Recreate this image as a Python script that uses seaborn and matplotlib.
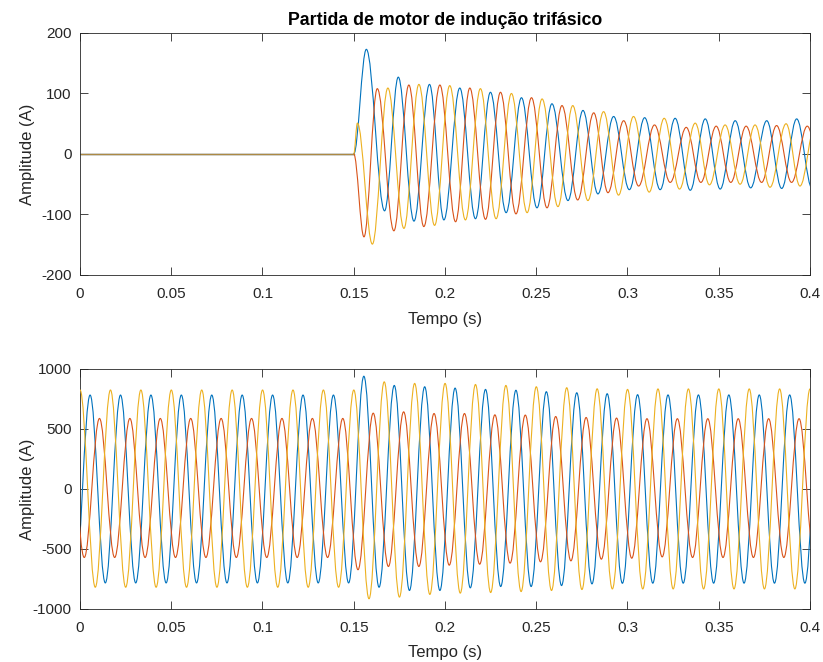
import numpy as np
import pandas as pd
import seaborn as sns
import matplotlib.pyplot as plt
from matplotlib.path import Path
from matplotlib.patches import PathPatch

phases = ["A", "B", "C"]
phase_colors = ["#0072BD", "#D95319", "#EDB120"]

x_ticks = [0, 0.05, 0.1, 0.15, 0.2, 0.25, 0.3, 0.35, 0.4]
x_tick_labels = ["0", "0.05", "0.1", "0.15", "0.2", "0.25", "0.3", "0.35", "0.4"]
top_yticks = [-200, -100, 0, 100, 200]
bot_yticks = [-1000, -500, 0, 500, 1000]

# --- motor start (top), current is zero until switch-on ---
pre_start_t = [0.0, 0.15]
pre_start_v = [0.0, 0.0]

# peaks / troughs of each phase after switch-on (time in s, current in A)
a_top_t = [0.150, 0.1569, 0.1669, 0.1744, 0.1830, 0.1915, 0.1994, 0.2081, 0.2167, 0.2249,
           0.2335, 0.2419, 0.2504, 0.2586, 0.2674, 0.2756, 0.2838, 0.2924, 0.3010, 0.3094,
           0.3179, 0.3261, 0.3344, 0.3426, 0.3508, 0.3590, 0.3675, 0.3763, 0.3845, 0.3927, 0.4012]
a_top_v = [0, 173, -94, 127, -111, 115, -109, 109, -107, 102,
           -97, 93, -89, 83, -77, 72, -66, 62, -59, 60,
           -59, 59, -60, 58, -58, 55, -56, 55, -57, 58, -57]

b_top_t = [0.150, 0.1556, 0.1629, 0.1720, 0.1802, 0.1884, 0.1972, 0.2058, 0.2136, 0.2222,
           0.2304, 0.2389, 0.2474, 0.2559, 0.2641, 0.2727, 0.2815, 0.2893, 0.2979, 0.3061,
           0.3148, 0.3234, 0.3322, 0.3402, 0.3486, 0.3566, 0.3650, 0.3735, 0.3817, 0.3899,
           0.3985, 0.4070]
b_top_v = [0, -137, 108, -127, 114, -120, 114, -112, 109, -108,
           102, -99, 93, -89, 80, -76, 68, -64, 55, -53,
           48, -47, 44, -47, 46, -47, 46, -47, 47, -47,
           46, -47]

c_top_t = [0.150, 0.1520, 0.1602, 0.1687, 0.1775, 0.1857, 0.1943, 0.2026, 0.2112, 0.2194,
           0.2280, 0.2364, 0.2450, 0.2532, 0.2619, 0.2700, 0.2783, 0.2869, 0.2951, 0.3033,
           0.3119, 0.3201, 0.3285, 0.3371, 0.3449, 0.3535, 0.3617, 0.3699, 0.3781, 0.3869,
           0.3945, 0.4030]
c_top_v = [0, 51, -149, 109, -123, 115, -118, 113, -109, 108,
           -107, 100, -97, 91, -87, 80, -77, 70, -68, 62,
           -63, 59, -58, 51, -51, 48, -50, 48, -55, 50,
           -53, 50]

# --- network currents (bottom), 60 Hz, one value per cycle ---
freq = 60.0
a_bot_first = -0.0028   # first trough
b_bot_first = -0.0060   # first peak
c_bot_first = -0.0083   # first trough

a_bot_troughs = [-783] * 10 + [-819, -846, -846, -824, -813, -813, -805, -791, -786] + [-785] * 7
a_bot_peaks = [783] * 9 + [940, 863, 852, 841, 830, 823, 811, 802, 794, 786] + [784] * 7

b_bot_peaks = [588] * 10 + [632, 643, 629, 629, 618, 616, 604, 596, 591] + [586] * 7
b_bot_troughs = [-571] * 9 + [-673, -646, -646, -635, -627, -618, -607, -599, -585, -577, -566] + [-571] * 6

c_bot_troughs = [-819] * 10 + [-915, -901, -879, -868, -863, -855, -846, -838, -833, -833] + [-833] * 6
c_bot_peaks = [825] * 10 + [893, 880, 880, 871, 863, 852, 844, 835, 830] + [834] * 7


def interleave(first, second):
    out = []
    for f, s in zip(first, second):
        out += [f, s]
    return out


def wave_path(t, v):
    # smooth half-cycles between consecutive extrema (cubic bezier, flat at the extrema)
    k = (np.pi - 2) / np.pi
    verts = [(t[0], v[0])]
    codes = [Path.MOVETO]
    for i in range(len(t) - 1):
        dt = t[i + 1] - t[i]
        verts += [(t[i] + k * dt, v[i]), (t[i + 1] - k * dt, v[i + 1]), (t[i + 1], v[i + 1])]
        codes += [Path.CURVE4] * 3
    return Path(verts, codes)


def draw_wave(ax, t, v, color, z):
    ax.add_patch(PathPatch(wave_path(t, v), facecolor="none", edgecolor=color,
                           lw=0.8, zorder=z, capstyle="round", joinstyle="round"))


def style_axes(ax, yticks, xlabel_y):
    ax.set_xlim(0, 0.4)
    ax.set_ylim(yticks[0], yticks[-1])
    ax.set_xticks(x_ticks)
    ax.set_xticklabels(x_tick_labels)
    ax.set_yticks(yticks)
    ax.set_yticklabels([str(v) for v in yticks])
    ax.tick_params(direction="in", top=True, right=True, length=5.5, width=0.6,
                   colors="#262626", labelsize=11)
    ax.tick_params(axis="x", pad=9)
    ax.tick_params(axis="y", pad=6)
    for s in ax.spines.values():
        s.set_color("#262626")
        s.set_linewidth(0.6)
        s.set_visible(True)
    ax.set_xlabel("Tempo (s)", fontsize=12, color="#262626")
    ax.set_ylabel("Amplitude (A)", fontsize=12, color="#262626")
    ax.xaxis.set_label_coords(0.5, xlabel_y)
    ax.yaxis.set_label_coords(-0.062, 0.5)


sns.set_theme(style="ticks")
plt.rcParams["font.family"] = ["Liberation Sans", "DejaVu Sans"]
plt.rcParams["axes.unicode_minus"] = False

fig = plt.figure(figsize=(8.23, 6.62), dpi=100)
ax_top = fig.add_axes([0.0972, 0.5846, 0.887, 0.3656])
ax_bot = fig.add_axes([0.0972, 0.0801, 0.887, 0.3625])

# zero current before the motor starts (three phases on top of each other)
pre = pd.DataFrame({
    "t": pre_start_t * 3,
    "i": pre_start_v * 3,
    "fase": [p for p in phases for _ in pre_start_t],
})
for p, color, a in zip(phases, phase_colors, [1.0, 0.5, 0.5]):
    sns.lineplot(data=pre[pre["fase"] == p], x="t", y="i", color=color,
                 alpha=a, lw=1.0, ax=ax_top)

top_series = [(a_top_t, a_top_v), (b_top_t, b_top_v), (c_top_t, c_top_v)]
for z, ((t, v), color) in enumerate(zip(top_series, phase_colors)):
    draw_wave(ax_top, t, v, color, 2 + z)

half = 1.0 / (2 * freq)
bot_series = [
    (a_bot_first, interleave(a_bot_troughs, a_bot_peaks)),
    (b_bot_first, interleave(b_bot_peaks, b_bot_troughs)),
    (c_bot_first, interleave(c_bot_troughs, c_bot_peaks)),
]
for z, ((t0, v), color) in enumerate(zip(bot_series, phase_colors)):
    t = [t0 + i * half for i in range(len(v))]
    draw_wave(ax_bot, t, v, color, 2 + z)

style_axes(ax_top, top_yticks, -0.152)
style_axes(ax_bot, bot_yticks, -0.152)
ax_top.set_title("Partida de motor de indução trifásico", fontsize=12.8,
                 fontweight="bold", color="#000000", pad=6)

fig.savefig("out.png", dpi=100)
